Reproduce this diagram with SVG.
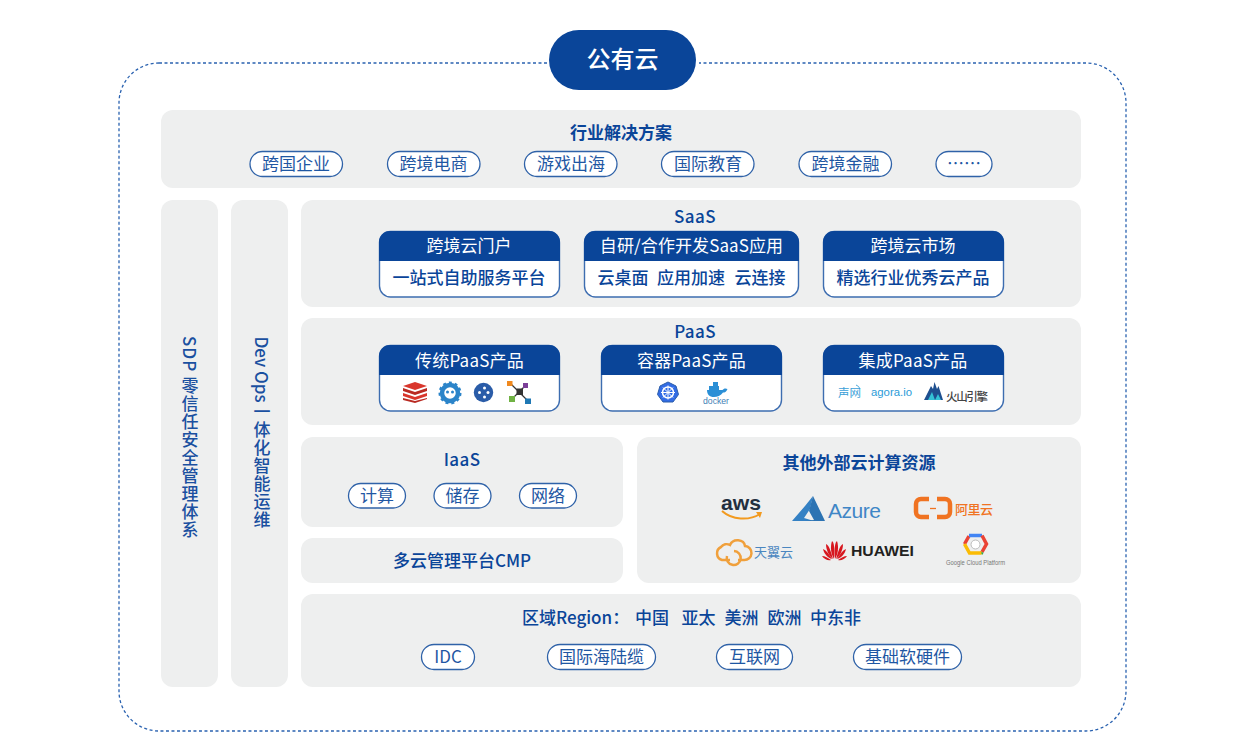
<svg xmlns="http://www.w3.org/2000/svg" width="1245" height="753" viewBox="0 0 1245 753">
<style>
text{font-family:"Noto Sans CJK SC","Noto Sans",sans-serif;font-size:17px;fill:#0a4599;text-anchor:middle}
.panel{fill:#eeefef}
.b{font-weight:500}
.bold{font-weight:700}
.pill{fill:#fff;stroke:#2f62a8;stroke-width:1.3}
.pt{fill:#1f57a3}
.card{fill:#fff;stroke:#3d6db0;stroke-width:1.4}
.head{fill:#0a4599}
.w{fill:#fff}
.v{writing-mode:vertical-rl;text-anchor:middle;letter-spacing:1px;fill:#1a50a0;font-weight:500}
.logo{text-anchor:start}
.sans{font-family:"Liberation Sans",sans-serif}
</style>
<rect width="1245" height="753" fill="#fff"/>
<g id="frame">
<rect x="119" y="63" width="1007" height="668" rx="40" fill="none" stroke="#2a62b0" stroke-width="1.300" stroke-dasharray="3 2.500"/>
</g>
<g id="title">
<rect x="547" y="28" width="152" height="64" fill="#fff"/>
<rect x="549" y="30" width="147" height="60" rx="30" fill="#0a4599"/>
<text x="622.500" y="68" class="w b" style="font-size:24px">公有云</text>
</g>
<g id="industry">
<rect class="panel" x="161" y="110" width="920" height="78" rx="12"/>
<text x="621" y="139" class="bold">行业解决方案</text>
<rect class="pill" x="250" y="151.500" width="92.500" height="25" rx="12.500"/><text class="pt" x="296" y="170">跨国企业</text>
<rect class="pill" x="387.500" y="151.500" width="92.500" height="25" rx="12.500"/><text class="pt" x="433.500" y="170">跨境电商</text>
<rect class="pill" x="524.500" y="151.500" width="92.500" height="25" rx="12.500"/><text class="pt" x="571" y="170">游戏出海</text>
<rect class="pill" x="661.500" y="151.500" width="92.500" height="25" rx="12.500"/><text class="pt" x="708" y="170">国际教育</text>
<rect class="pill" x="799" y="151.500" width="92.500" height="25" rx="12.500"/><text class="pt" x="845.500" y="170">跨境金融</text>
<rect class="pill" x="936" y="151.500" width="56" height="25" rx="12.500"/><text class="pt" x="964" y="170">……</text>
</g>
<g id="sdp">
<rect class="panel" x="161" y="200" width="57" height="487" rx="12"/>
<text class="v" x="190" y="437.500">SDP 零信任安全管理体系</text>
</g>
<g id="devops">
<rect class="panel" x="231" y="200" width="57" height="487" rx="12"/>
<text class="v" x="262" y="369.500" style="letter-spacing:0">Dev Ops</text>
<text class="v" x="262" y="412">一</text>
<text class="v" x="262" y="475">体化智能运维</text>
</g>
<g id="saas">
<rect class="panel" x="301" y="200" width="780" height="107" rx="12"/>
<text x="695" y="223" class="b" style="letter-spacing:.4px">SaaS</text>
<g id="saas-portal">
<rect class="card" x="379.500" y="231.500" width="180" height="65.500" rx="11"/>
<path class="head" d="M379 261V242a11 11 0 0 1 11-11H549a11 11 0 0 1 11 11V261Z"/>
<text x="469" y="252" class="w">跨境云门户</text><text x="469" y="284" class="b">一站式自助服务平台</text>
</g>
<g id="saas-apps">
<rect class="card" x="584.500" y="231.500" width="214" height="65.500" rx="11"/>
<path class="head" d="M584 261V242a11 11 0 0 1 11-11H788a11 11 0 0 1 11 11V261Z"/>
<text x="691.500" y="252" class="w" style="letter-spacing:.1px">自研/合作开发SaaS应用</text>
<text class="b logo" y="284"><tspan x="597.500">云桌面</tspan><tspan x="657">应用加速</tspan><tspan x="734.500">云连接</tspan></text>
</g>
<g id="saas-market">
<rect class="card" x="823.500" y="231.500" width="180" height="65.500" rx="11"/>
<path class="head" d="M823 261V242a11 11 0 0 1 11-11H993a11 11 0 0 1 11 11V261Z"/>
<text x="913" y="252" class="w">跨境云市场</text><text x="913" y="284" class="b">精选行业优秀云产品</text>
</g>
</g>
<g id="paas">
<rect class="panel" x="301" y="318" width="780" height="107" rx="12"/>
<text x="695" y="338" class="b" style="letter-spacing:.4px">PaaS</text>
<g id="paas-traditional">
<rect class="card" x="379.500" y="345.500" width="180" height="65.500" rx="11"/>
<path class="head" d="M379 375V356a11 11 0 0 1 11-11H549a11 11 0 0 1 11 11V375Z"/>
<text x="469.500" y="367" class="w" style="letter-spacing:.2px">传统PaaS产品</text>
<g id="logo-redis">
<path d="M415 382l12 4-12 4-12-4Z" fill="#d9362c"/>
<path d="M403 388l12 4 12-4v3l-12 4-12-4Z" fill="#b92a22"/>
<path d="M403 393l12 4 12-4v3l-12 4-12-4Z" fill="#d9362c"/>
<path d="M403 398l12 3 12-3v1l-12 4-12-3Z" fill="#b92a22"/>
</g>
<g id="logo-gear">
<circle cx="450" cy="393" r="8" fill="#fff" stroke="#2b84c9" stroke-width="4.500"/>
<circle cx="450" cy="393" r="10.500" fill="none" stroke="#2b84c9" stroke-width="2" stroke-dasharray="3 3"/>
<circle cx="447.500" cy="392" r="1.500" fill="#2b84c9"/><circle cx="452.500" cy="392" r="1.500" fill="#2b84c9"/>
</g>
<g id="logo-flow">
<circle cx="483.500" cy="392.500" r="9.700" fill="#2a5ca8"/>
<circle cx="479.500" cy="392.500" r="1.500" fill="#fff"/><circle cx="484.500" cy="388" r="1.500" fill="#fff"/><circle cx="484.500" cy="397" r="1.500" fill="#fff"/><circle cx="488" cy="392.500" r="1.500" fill="#fff"/>
</g>
<g id="logo-network">
<path d="M510 383L528 401M526 385L512 399" stroke="#333" stroke-width="1.200"/>
<rect x="516.500" y="388.500" width="6.500" height="6.500" fill="#333"/>
<rect x="507" y="381" width="5.500" height="5" fill="#f0891e"/><rect x="523" y="383" width="5" height="5" fill="#7b3f98"/>
<rect x="509" y="396" width="6" height="6" fill="#70b244"/><rect x="525" y="398.500" width="6" height="5.500" fill="#1f78b4"/>
</g>
</g>
<g id="paas-container">
<rect class="card" x="601.500" y="345.500" width="180" height="65.500" rx="11"/>
<path class="head" d="M601 375V356a11 11 0 0 1 11-11H771a11 11 0 0 1 11 11V375Z"/>
<text x="691.500" y="367" class="w" style="letter-spacing:.2px">容器PaaS产品</text>
<g id="logo-k8s">
<path d="M668 382l8 4 2.500 8.500-5.500 7.500h-10l-5.500-7.500 2.500-8.500Z" fill="#326ce5" stroke="#2a5ca8"/>
<circle cx="668" cy="392.500" r="5.500" fill="none" stroke="#fff" stroke-width="1.500"/>
<path d="M668 385.500v14M661 392.500h14M663 387.500l10 10M673 387.500l-10 10" stroke="#fff" stroke-width="1"/>
</g>
<g id="logo-docker">
<path d="M707 390h15.500c1-1.500 3-2 5-1-1 3-3 3.500-4.500 3.500-2 3-6 4.500-9 4.500-4.500 0-7-2.500-7-7Z" fill="#2b8fd6"/>
<rect x="709" y="386" width="10" height="4" fill="#2b8fd6"/><rect x="713" y="382" width="5" height="4" fill="#2b8fd6"/>
<text class="logo sans" x="703" y="403.500" textLength="26" lengthAdjust="spacingAndGlyphs" style="font-size:9px;fill:#3f7fb5">docker</text>
</g>
</g>
<g id="paas-integrated">
<rect class="card" x="823.500" y="345.500" width="180" height="65.500" rx="11"/>
<path class="head" d="M823 375V356a11 11 0 0 1 11-11H993a11 11 0 0 1 11 11V375Z"/>
<text x="913" y="367" class="w" style="letter-spacing:.2px">集成PaaS产品</text>
<text class="logo" x="838" y="397" textLength="23" style="font-size:11.500px;fill:#3b9fd8">声网</text>
<path d="M856 385a6 6 0 0 1 4 4" fill="none" stroke="#3b9fd8" stroke-width=".9"/>
<text class="logo sans" x="871" y="396" textLength="41" lengthAdjust="spacingAndGlyphs" style="font-size:11px;fill:#2b9bd8">agora.io</text>
<path d="M924 400l7-14 2 3 1.500-7 2.500 7 1.500-3 4.500 14Z" fill="#1e4f8f"/>
<path d="M928 400l4-8 3 8ZM935 400l3-6 3 6Z" fill="#34c3d6"/>
<text class="logo" x="946" y="401" textLength="42" style="font-size:11.500px;font-weight:500;fill:#444">火山引擎</text>
</g>
</g>
<g id="iaas">
<rect class="panel" x="301" y="437" width="322" height="90" rx="12"/>
<text x="462" y="466" class="b" style="letter-spacing:.4px">IaaS</text>
<rect class="pill" x="348.500" y="483.500" width="57" height="24.500" rx="12.250"/><text class="pt" x="377" y="502">计算</text>
<rect class="pill" x="434" y="483.500" width="57" height="24.500" rx="12.250"/><text class="pt" x="462.500" y="502">储存</text>
<rect class="pill" x="519.500" y="483.500" width="57" height="24.500" rx="12.250"/><text class="pt" x="548" y="502">网络</text>
</g>
<g id="cmp">
<rect class="panel" x="301" y="538" width="322" height="45" rx="12"/>
<text x="462" y="567" class="b">多云管理平台CMP</text>
</g>
<g id="external">
<rect class="panel" x="637" y="437" width="444" height="146" rx="12"/>
<text x="859" y="469" class="bold">其他外部云计算资源</text>
<g id="logo-aws">
<text class="logo sans" x="721" y="510" textLength="40" lengthAdjust="spacingAndGlyphs" style="font-size:21px;font-weight:700;fill:#232f3e">aws</text>
<path d="M722 511c10 9 27 10 38 3" fill="none" stroke="#f29a1f" stroke-width="2"/>
<path d="M756 512l6 0-2 6Z" fill="#f29a1f"/>
</g>
<g id="logo-azure">
<path d="M792 521l13-15 8-10-3 13-6 9 10 3Z" fill="#3481c4"/>
<path d="M813 496l12 25h-20l9-1-5-9Z" fill="#2c73b3"/>
<text class="logo sans" x="828" y="518" textLength="53" style="font-size:21px;fill:#3f86c6">Azure</text>
</g>
<g id="logo-ali">
<path d="M929 499h-8a5 5 0 0 0-5 5v8a5 5 0 0 0 5 5h8M937 499h8a5 5 0 0 1 5 5v8a5 5 0 0 1-5 5h-8" fill="none" stroke="#f07322" stroke-width="4.500"/>
<path d="M930 508.500h6" stroke="#f07322" stroke-width="1.300"/>
<text class="logo" x="955" y="514" textLength="38" style="font-size:13px;font-weight:500;fill:#f07322">阿里云</text>
</g>
<g id="logo-tianyi">
<path d="M738 560h6a7 7 0 0 0 1-14c-1-7-12-8-15-1a7 7 0 0 0-9 2 7 7 0 0 0 1 13h8" fill="none" stroke="#f0a03c" stroke-width="2.500"/>
<path d="M727 556a7 7 0 1 0 7-5" fill="none" stroke="#f0a03c" stroke-width="2.500"/>
<text class="logo" x="754" y="557" textLength="39" style="font-size:13px;fill:#4a86c0">天翼云</text>
</g>
<g id="logo-huawei">
<g fill="#d7171f">
<path d="M834 559c-3-5-4-12-2-18 2 1 3 8 2 18Z"/><path d="M835 559c3-5 4-12 2-18-2 1-3 8-2 18Z"/>
<path d="M833 559c-4-3-7-9-7-15 3 1 5 8 7 15Z"/><path d="M836 559c4-3 7-9 7-15-3 1-5 8-7 15Z"/>
<path d="M832 559c-4-1-8-5-9-10 3 1 6 5 9 10Z"/><path d="M837 559c4-1 8-5 9-10-3 1-6 5-9 10Z"/>
<path d="M831 560c-3 1-7-1-9-4 3 0 6 2 9 4Z"/><path d="M838 560c3 1 7-1 9-4-3 0-6 2-9 4Z"/>
</g>
<text class="logo sans" x="851" y="556" textLength="63" lengthAdjust="spacingAndGlyphs" style="font-size:14px;font-weight:700;fill:#231f20">HUAWEI</text>
</g>
<g id="logo-gcp">
<path d="M969 536l-4.500 8" fill="none" stroke="#ea4335" stroke-width="3.500"/>
<path d="M969 535.500h13" fill="none" stroke="#4285f4" stroke-width="3.500"/>
<path d="M982 535.500l4.500 8.500-4.500 8" fill="none" stroke="#ea4335" stroke-width="3.500"/>
<path d="M982 552l-1 2" fill="none" stroke="#34a853" stroke-width="3.500"/>
<path d="M964.500 544l5 9h12" fill="none" stroke="#fbbc05" stroke-width="3.500"/>
<circle cx="975.500" cy="544.500" r="4.500" fill="#fff" stroke="#bbb"/>
<text class="logo sans" x="946" y="565" textLength="59" lengthAdjust="spacingAndGlyphs" style="font-size:7px;fill:#777">Google Cloud Platform</text>
</g>
</g>
<g id="region">
<rect class="panel" x="301" y="594" width="780" height="93" rx="12"/>
<text class="b logo" y="624"><tspan x="522">区域Region：</tspan><tspan x="635">中国</tspan><tspan x="681.500">亚太</tspan><tspan x="724.500">美洲</tspan><tspan x="767.500">欧洲</tspan><tspan x="810">中东非</tspan></text>
<rect class="pill" x="421.500" y="644.500" width="53" height="25" rx="12.500"/><text class="pt" x="448" y="663">IDC</text>
<rect class="pill" x="547.500" y="644.500" width="108" height="25" rx="12.500"/><text class="pt" x="601.500" y="663">国际海陆缆</text>
<rect class="pill" x="716.500" y="644.500" width="76" height="25" rx="12.500"/><text class="pt" x="754.500" y="663">互联网</text>
<rect class="pill" x="853.500" y="644.500" width="108" height="25" rx="12.500"/><text class="pt" x="907.500" y="663">基础软硬件</text>
</g>
</svg>
